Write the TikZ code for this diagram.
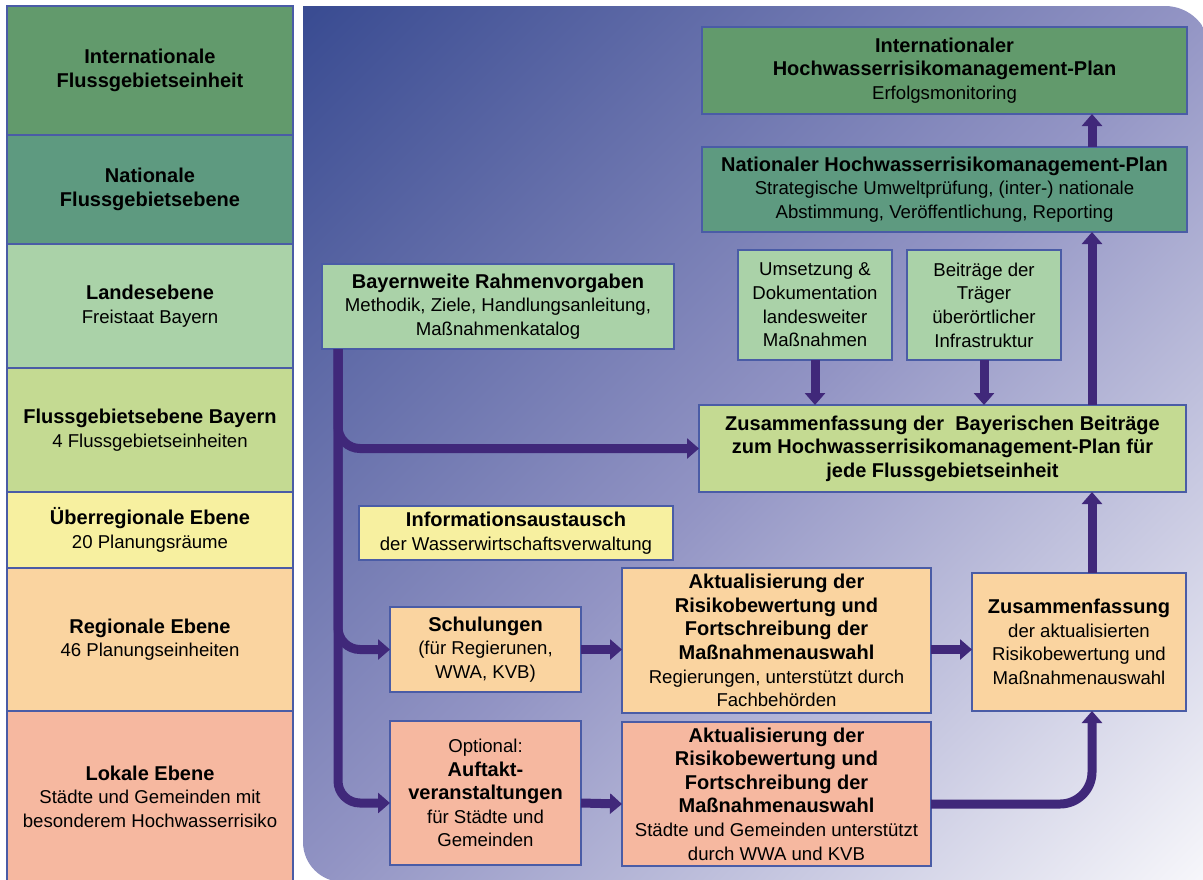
\documentclass[tikz,border=0pt]{standalone}
\usepackage{fontspec}
\setmainfont{Liberation Sans}
\usepackage{tikz}
\usetikzlibrary{arrows.meta,positioning}

\definecolor{panA}{HTML}{3A4C92}
\definecolor{panB}{HTML}{9294C4}
\definecolor{panC}{HTML}{F6F6FA}
\definecolor{boxline}{HTML}{4A5CA6}
\definecolor{arrowc}{HTML}{40287A}
\definecolor{lvA}{HTML}{629A6C}
\definecolor{lvB}{HTML}{5E9A80}
\definecolor{lvC}{HTML}{AAD2A8}
\definecolor{lvD}{HTML}{C4DA92}
\definecolor{lvE}{HTML}{F7F0A0}
\definecolor{lvF}{HTML}{FAD4A0}
\definecolor{lvG}{HTML}{F6B8A0}

\pgfdeclareverticalshading{panelshade}{100bp}{color(0bp)=(panC); color(15bp)=(panC); color(50bp)=(panB); color(85bp)=(panA); color(100bp)=(panA)}

\newcommand{\subline}[1]{{\fontsize{9.3}{11.8}\selectfont #1}}

\begin{document}
\begin{tikzpicture}[
    x=0.5pt, y=-0.5pt,
    level/.style={rectangle, draw=boxline, line width=0.6pt, minimum width=143pt, outer sep=0pt, inner sep=1pt, align=center, font=\fontsize{10}{11.8}\selectfont},
    box/.style={rectangle, draw=boxline, line width=0.6pt, anchor=north west, outer sep=0pt, inner xsep=2pt, inner ysep=0.5pt, align=center, font=\fontsize{10}{11.8}\selectfont},
    flow/.style={draw=arrowc, line width=4.5pt, -{Triangle[width=10pt,length=6pt]}}
]
    \useasboundingbox (0,0) rectangle (1203,879);

    % Background panel
    \shade[shading=panelshade, shading angle=45]
        (303,6) -- (1165,6) arc[start angle=90, end angle=0, radius=22.5pt]
        -- (1210,882) -- (343,882) arc[start angle=270, end angle=180, radius=20pt] -- cycle;

    % Levels
    \node[level, fill=lvA, minimum height=64.5pt, anchor=north] (lvlint) at (150,6) {\textbf{Internationale}\\\textbf{Flussgebietseinheit}};
    \node[level, fill=lvB, minimum height=54.5pt, below=0pt of lvlint] (lvlnat) {\textbf{Nationale}\\\textbf{Flussgebietsebene}};
    \node[level, fill=lvC, minimum height=62pt, below=0pt of lvlnat] (lvlland) {\textbf{Landesebene}\\\subline{Freistaat Bayern}};
    \node[level, fill=lvD, minimum height=62pt, below=0pt of lvlland] (lvlfgb) {\textbf{Flussgebietsebene Bayern}\\\subline{4 Flussgebietseinheiten}};
    \node[level, fill=lvE, minimum height=38pt, below=0pt of lvlfgb] (lvlueber) {\textbf{Überregionale Ebene}\\\subline{20 Planungsräume}};
    \node[level, fill=lvF, minimum height=71.5pt, below=0pt of lvlueber] (lvlreg) {\textbf{Regionale Ebene}\\\subline{46 Planungseinheiten}};
    \node[level, fill=lvG, minimum height=85.5pt, below=0pt of lvlreg] (lvllok) {\textbf{Lokale Ebene}\\\subline{Städte und Gemeinden mit}\\\subline{besonderem Hochwasserrisiko}};

    % Plans
    \node[box, fill=lvA, minimum width=242.5pt, minimum height=43.5pt] (plint) at (702,27) {\textbf{Internationaler}\\\textbf{Hochwasserrisikomanagement-Plan}\\\subline{Erfolgsmonitoring}};
    \node[box, fill=lvB, minimum width=242.5pt, minimum height=42.5pt, below=16.5pt of plint] (plnat) {\textbf{Nationaler Hochwasserrisikomanagement-Plan}\\\subline{Strategische Umweltprüfung, (inter-) nationale}\\\subline{Abstimmung, Veröffentlichung, Reporting}};
    \node[box, fill=lvC, minimum width=77pt, minimum height=55pt, below right=9pt and 18pt of plnat.south west] (umsetz) {\subline{Umsetzung \&}\\\subline{Dokumentation}\\\subline{landesweiter}\\\subline{Maßnahmen}};
    \node[box, fill=lvC, minimum width=77pt, minimum height=55pt, right=7.5pt of umsetz] (beitr) {\subline{Beiträge der}\\\subline{Träger}\\\subline{überörtlicher}\\\subline{Infrastruktur}};
    \node[box, fill=lvD, minimum width=243.5pt, minimum height=43.5pt] (zusby) at (699,405) {\textbf{Zusammenfassung der~ Bayerischen Beiträge}\\\textbf{zum Hochwasserrisikomanagement-Plan für}\\\textbf{jede Flussgebietseinheit}};

    % Bavarian steps
    \node[box, fill=lvC, minimum width=176pt, minimum height=42.5pt] (bay) at (322,264) {\textbf{Bayernweite Rahmenvorgaben}\\\subline{Methodik, Ziele, Handlungsanleitung,}\\\subline{Maßnahmenkatalog}};
    \node[box, fill=lvE, minimum width=157pt, minimum height=27pt] (info) at (359,506) {\textbf{Informationsaustausch}\\\subline{der Wasserwirtschaftsverwaltung}};
    \node[box, fill=lvF, minimum width=95.5pt, minimum height=42.5pt] (schul) at (390,607) {\textbf{Schulungen}\\\subline{(für Regierunen,}\\\subline{WWA, KVB)}};
    \node[box, fill=lvG, minimum width=95.5pt, minimum height=72pt, below=14.5pt of schul] (auft) {\subline{Optional:}\\\textbf{Auftakt-}\\\textbf{veranstaltungen}\\\subline{für Städte und}\\\subline{Gemeinden}};
    \node[box, fill=lvF, minimum width=154.5pt, minimum height=72.5pt] (aktreg) at (622,568) {\textbf{Aktualisierung der}\\\textbf{Risikobewertung und}\\\textbf{Fortschreibung der}\\\textbf{Maßnahmenauswahl}\\\subline{Regierungen, unterstützt durch}\\\subline{Fachbehörden}};
    \node[box, fill=lvG, minimum width=154.5pt, minimum height=72pt, below=4.5pt of aktreg] (aktloc) {\textbf{Aktualisierung der}\\\textbf{Risikobewertung und}\\\textbf{Fortschreibung der}\\\textbf{Maßnahmenauswahl}\\\subline{Städte und Gemeinden unterstützt}\\\subline{durch WWA und KVB}};
    \node[box, fill=lvF, minimum width=107pt, minimum height=69pt] (zusreg) at (972,573) {\textbf{Zusammenfassung}\\\subline{der aktualisierten}\\\subline{Risikobewertung und}\\\subline{Maßnahmenauswahl}};

    % Arrows
    \coordinate (trunk) at ([xshift=8pt]bay.south west);
    \coordinate (upcol) at ([xshift=-47pt]zusreg.north east);
    \draw[flow, rounded corners=11pt] (trunk) |- (zusby.west);
    \draw[flow, rounded corners=11pt] (trunk) |- (schul.west);
    \draw[flow, rounded corners=11pt] (trunk) |- ([yshift=-5pt]auft.west);
    \draw[flow] (schul.east) -- (schul.east -| aktreg.west);
    \draw[flow] ([yshift=-5pt]auft.east) -- ([yshift=-5pt]aktloc.west);
    \draw[flow] (aktreg.east |- schul.east) -- (zusreg.west |- schul.east);
    \draw[flow, rounded corners=16pt] ([yshift=-5pt]aktloc.east) -| (upcol |- zusreg.south);
    \draw[flow] (upcol) -- (upcol |- zusby.south);
    \draw[flow] (umsetz.south) -- (umsetz.south |- zusby.north);
    \draw[flow] (beitr.south) -- (beitr.south |- zusby.north);
    \draw[flow] (upcol |- zusby.north) -- (upcol |- plnat.south);
    \draw[flow] (upcol |- plnat.north) -- (upcol |- plint.south);
\end{tikzpicture}
\end{document}
